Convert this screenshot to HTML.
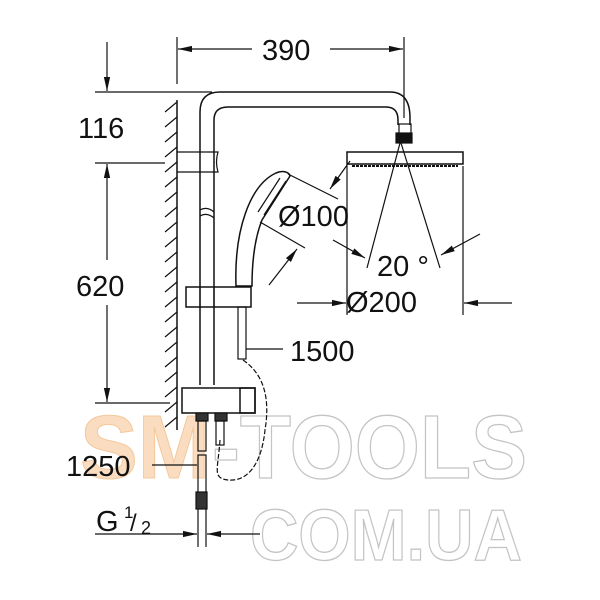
<!DOCTYPE html>
<html><head><style>
html,body{margin:0;padding:0;background:#fff;}
svg{display:block;}
text{font-family:"Liberation Sans",sans-serif;fill:#111;}
</style></head><body>
<svg width="600" height="600" viewBox="0 0 600 600" xmlns="http://www.w3.org/2000/svg">
<defs>
<marker id="a" viewBox="0 0 10 10" refX="10" refY="5" markerWidth="14" markerHeight="9" orient="auto-start-reverse" markerUnits="userSpaceOnUse" preserveAspectRatio="none"><path d="M0,1.5 L10,5 L0,8.5z" fill="#111"/></marker>
</defs>
<g font-family="Liberation Sans" font-weight="bold">
<text x="80" y="478" font-size="90" textLength="130" lengthAdjust="spacingAndGlyphs" stroke="#f3c89c" stroke-width="1" style="fill:#fadcc0">SM</text>
<text x="212" y="478" font-size="90" textLength="315" lengthAdjust="spacingAndGlyphs" stroke="#c4c4c4" stroke-width="1.3" style="fill:#fff">-TOOLS</text>
<text x="250" y="560" font-size="72" textLength="272" lengthAdjust="spacingAndGlyphs" stroke="#c4c4c4" stroke-width="1.3" style="fill:#fff">COM.UA</text>
</g>
<g stroke="#111" fill="none" stroke-width="1.2">
<line x1="177" y1="37" x2="177" y2="84"/>
<line x1="404" y1="37" x2="404" y2="118"/>
<line x1="252" y1="49" x2="178" y2="49" marker-end="url(#a)"/>
<line x1="330" y1="49" x2="403" y2="49" marker-end="url(#a)"/>
<line x1="95" y1="92" x2="212" y2="92"/>
<line x1="95" y1="163" x2="165" y2="163"/>
<line x1="95" y1="403" x2="170" y2="403"/>
<line x1="107" y1="42" x2="107" y2="91" marker-end="url(#a)"/>
<line x1="107" y1="260" x2="107" y2="164" marker-end="url(#a)"/>
<line x1="107" y1="305" x2="107" y2="402" marker-end="url(#a)"/>
<line x1="177" y1="100" x2="177" y2="430" stroke-width="1.5"/>
<path d="M165,112l12,-10M165,127l12,-10M165,142l12,-10M165,157l12,-10M165,172l12,-10M165,187l12,-10M165,202l12,-10M165,217l12,-10M165,232l12,-10M165,247l12,-10M165,262l12,-10M165,277l12,-10M165,292l12,-10M165,307l12,-10M165,322l12,-10M165,337l12,-10M165,352l12,-10M165,367l12,-10M165,382l12,-10M165,397l12,-10M165,412l12,-10M165,427l12,-10"/>
<path d="M200,385 V112 Q200,92 220,92 H390 Q410,92 410,118 V125" stroke-width="1.5"/>
<path d="M214,385 V120 Q214,107 228,107 H386 Q398,107 398,120 V125" stroke-width="1.5"/>
<rect x="399" y="124" width="12" height="10"/>
<rect x="396" y="133" width="16" height="10" fill="#111"/>
<rect x="347" y="152" width="116" height="12" stroke-width="1.5"/>
<line x1="352" y1="166" x2="458" y2="166" stroke-width="2" stroke-dasharray="3 1"/>
<path d="M177,152 H218 Q215,162 218,172 H177"/>
<path d="M200,210 Q207,206 214,212 M200,216 Q207,212 214,218"/>
<line x1="400" y1="143" x2="367" y2="268"/>
<line x1="401" y1="143" x2="440" y2="268"/>
<path d="M333,240 L365,258" marker-end="url(#a)"/>
<path d="M480,234 L441,255" marker-end="url(#a)"/>
<line x1="347" y1="166" x2="347" y2="315"/>
<line x1="463" y1="166" x2="463" y2="315"/>
<line x1="297" y1="303" x2="346" y2="303" marker-end="url(#a)"/>
<line x1="512" y1="303" x2="464" y2="303" marker-end="url(#a)"/>
<path d="M236,286 C234,230 250,185 276,173 C283,170 289,172 290,176 L262,220 C256,235 252,255 252,286 Z" stroke-width="1.5"/>
<path d="M280,178 L258,212 M286,181 L264,215"/>
<line x1="288" y1="174" x2="338" y2="199"/>
<line x1="260" y1="222" x2="305" y2="248"/>
<line x1="350" y1="161" x2="330" y2="189" marker-end="url(#a)"/>
<line x1="269" y1="285" x2="297" y2="249" marker-end="url(#a)"/>
<rect x="186" y="287" width="65" height="20" stroke-width="1.5"/>
<line x1="200" y1="287" x2="200" y2="307"/><line x1="214" y1="287" x2="214" y2="307"/>
<rect x="238" y="307" width="8" height="52"/>
<line x1="246" y1="349" x2="283" y2="349"/>
<path d="M243,360 C265,375 270,400 265,430 C262,460 250,482 228,480 C212,478 218,470 220,440" stroke-dasharray="5 2"/>
<rect x="182" y="388" width="73" height="25" stroke-width="1.5"/>
<rect x="240" y="388" width="15" height="25" stroke-width="1.5"/>
<rect x="196" y="413" width="12" height="8" fill="#333"/>
<rect x="215" y="413" width="12" height="8" fill="#333"/>
<rect x="198" y="421" width="8" height="30"/>
<rect x="216" y="421" width="8" height="24"/>
<rect x="198" y="455" width="8" height="40"/>
<line x1="152" y1="465" x2="197" y2="465"/>
<rect x="196" y="492" width="11" height="17" fill="#333"/>
<line x1="198" y1="509" x2="198" y2="547"/><line x1="206" y1="509" x2="206" y2="547"/>
<line x1="95" y1="534" x2="197" y2="534" marker-end="url(#a)"/>
<line x1="260" y1="534" x2="207" y2="534" marker-end="url(#a)"/>
</g>
<g font-size="29">
<text x="262" y="60">390</text>
<text x="78" y="138">116</text>
<text x="76" y="296">620</text>
<text x="278" y="226">Ø100</text>
<text x="377" y="276">20 °</text>
<text x="346" y="312">Ø200</text>
<text x="290" y="361">1500</text>
<text x="66" y="476">1250</text>
<text x="96" y="531">G</text>
<text x="124" y="518" font-size="17">1</text>
<text x="130" y="531" font-size="24">/</text>
<text x="141" y="534" font-size="18">2</text>
</g>
</svg>
</body></html>
